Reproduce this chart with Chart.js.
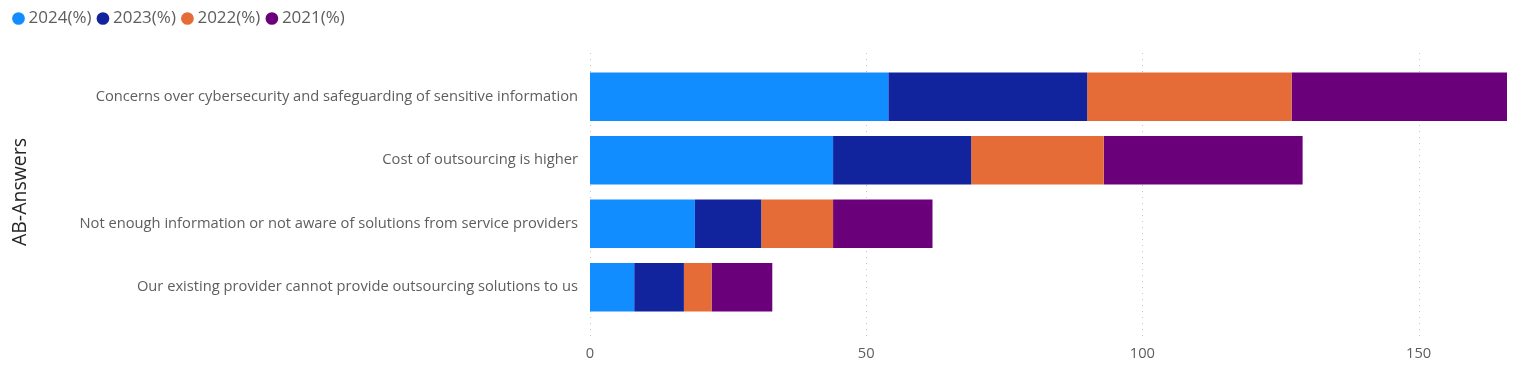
<!DOCTYPE html>
<html>
<head>
<meta charset="utf-8">
<script src="https://cdn.jsdelivr.net/npm/chart.js@4.4.1/dist/chart.umd.min.js"></script>
<style>
    html, body { margin: 0; padding: 0; background: #fff; }
    #wrap { width: 1539px; height: 370px; position: relative; }
</style>
</head>
<body>
<div id="wrap"><canvas id="chart"></canvas></div>
<script>
const categories = [
    'Concerns over cybersecurity and safeguarding of sensitive information',
    'Cost of outsourcing is higher',
    'Not enough information or not aware of solutions from service providers',
    'Our existing provider cannot provide outsourcing solutions to us',
];
const seriesNames = ['2024(%)', '2023(%)', '2022(%)', '2021(%)'];
const v2024 = [54, 44, 19, 8];
const v2023 = [36, 25, 12, 9];
const v2022 = [37, 24, 13, 5];
const v2021 = [39, 36, 18, 11];
const xTicks = [0, 50, 100, 150];

const COLORS = ['#118DFF', '#12239E', '#E66C37', '#6B007B'];
const FONT = "'Segoe UI', 'Open Sans', sans-serif";
const TEXT = '#605E5C';

const seriesValues = [v2024, v2023, v2022, v2021];
const totals = categories.map((_, i) => seriesValues.reduce((s, arr) => s + arr[i], 0));

// dotted vertical gridlines that run a bit past the plot area, like Power BI
const dottedGrid = {
    id: 'dottedGrid',
    beforeDatasetsDraw(chart) {
        const { ctx, scales: { x }, chartArea } = chart;
        ctx.save();
        ctx.strokeStyle = '#C8C6C4';
        ctx.lineWidth = 1;
        ctx.setLineDash([1, 5]);
        xTicks.forEach(t => {
            const px = Math.round(x.getPixelForValue(t)) + 0.5;
            ctx.beginPath();
            ctx.moveTo(px, chartArea.top - 12);
            ctx.lineTo(px, chartArea.bottom + 21);
            ctx.stroke();
        });
        ctx.restore();
    }
};

// force the legend block height so the plot starts where the reference does
const legendHeight = {
    id: 'legendHeight',
    beforeInit(chart) {
        const fit = chart.legend.fit;
        chart.legend.fit = function () {
            fit.bind(chart.legend)();
            this.height = 65;
        };
    }
};

new Chart(document.getElementById('chart'), {
    type: 'bar',
    data: {
        labels: categories,
        datasets: seriesNames.map((name, i) => ({
            label: name,
            data: seriesValues[i],
            backgroundColor: COLORS[i],
            borderWidth: 0,
            barPercentage: 0.76,
            categoryPercentage: 1,
        })),
    },
    options: {
        indexAxis: 'y',
        responsive: true,
        maintainAspectRatio: false,
        animation: false,
        layout: { padding: { left: 7, right: 32, top: 0, bottom: 0 } },
        plugins: {
            legend: {
                position: 'top',
                align: 'start',
                labels: {
                    usePointStyle: true,
                    pointStyle: 'circle',
                    boxWidth: 3,
                    boxHeight: 9,
                    padding: 10,
                    color: TEXT,
                    font: { size: 17, family: FONT },
                },
            },
            tooltip: { enabled: false },
        },
        scales: {
            x: {
                stacked: true,
                min: 0,
                max: Math.max(...totals),
                afterBuildTicks: (scale) => { scale.ticks = xTicks.map(v => ({ value: v })); },
                grid: { display: false, drawTicks: false },
                border: { display: false },
                ticks: {
                    padding: 26,
                    color: TEXT,
                    font: { size: 14.7, family: FONT },
                },
                afterFit: (scale) => { scale.height = 51; },
            },
            y: {
                stacked: true,
                grid: { display: false, drawTicks: false },
                border: { display: false },
                ticks: {
                    padding: 12,
                    color: TEXT,
                    font: { size: 14.7, family: FONT },
                },
                title: {
                    display: true,
                    text: 'AB-Answers',
                    color: '#252423',
                    font: { size: 19.5, family: FONT },
                    padding: { top: 2, bottom: 0 },
                },
                afterFit: (scale) => { scale.width = 583; },
            },
        },
    },
    plugins: [dottedGrid, legendHeight],
});
</script>
</body>
</html>
